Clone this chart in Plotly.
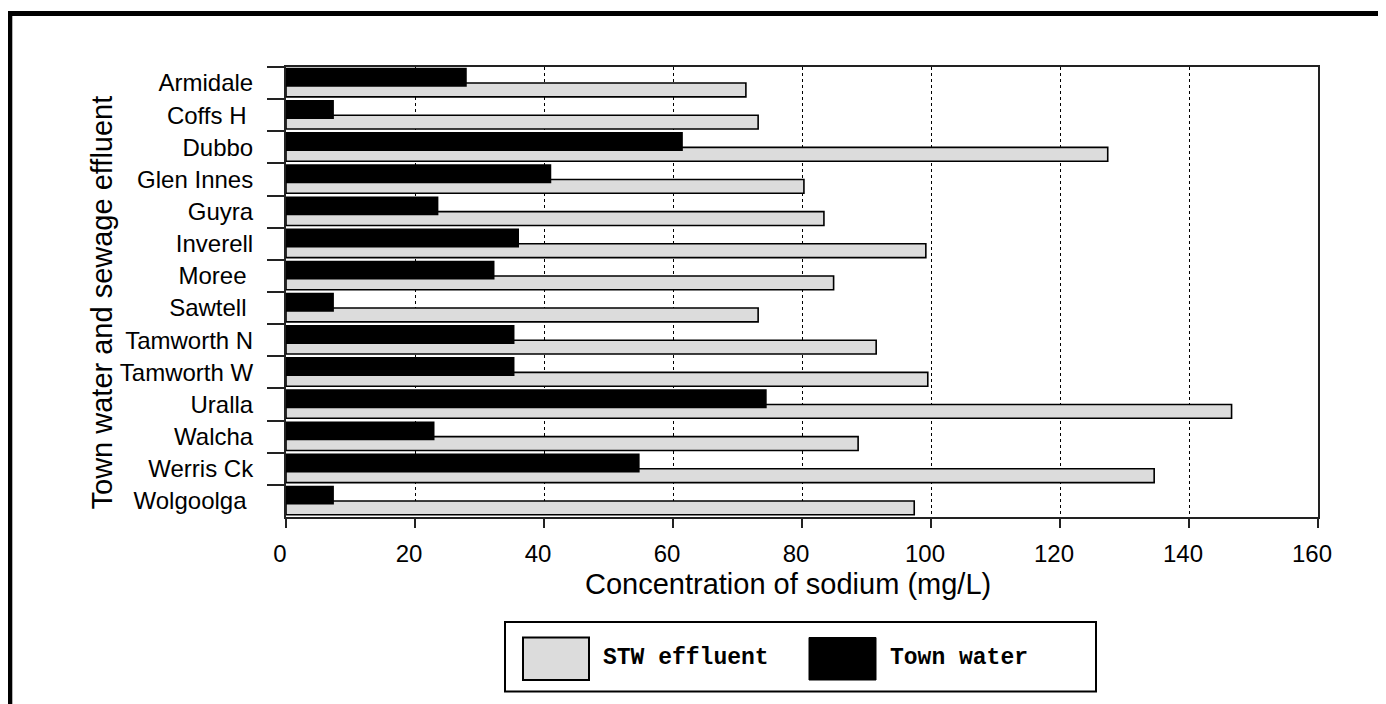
import plotly.graph_objects as go

towns = ["Armidale", "Coffs H\u00a0", "Dubbo", "Glen Innes", "Guyra", "Inverell",
         "Moree\u00a0", "Sawtell\u00a0", "Tamworth N", "Tamworth W", "Uralla",
         "Walcha", "Werris Ck", "Wolgoolga\u00a0"]
stw_effluent = [71.3, 73.2, 127.4, 80.3, 83.4, 99.2, 84.9, 73.2, 91.5, 99.5,
                146.6, 88.7, 134.6, 97.4]
town_water = [27.9, 7.3, 61.4, 41.0, 23.5, 36.0, 32.2, 7.3, 35.3, 35.3,
              74.4, 22.9, 54.7, 7.3]
x_ticks = [0, 20, 40, 60, 80, 100, 120, 140, 160]

# page offset of the plot div (browser body margin)
OFF = 8
# plot area in page pixels
PL, PT, PR, PB = 286, 67, 1318, 517
PW, PH = PR - PL, PB - PT
FW, FH = 1386 - OFF, 704 - OFF


def px(x):
    return (x - PL) / PW


def py(y):
    return (PB - y) / PH


fig = go.Figure()
fig.add_trace(go.Bar(
    y=towns, x=stw_effluent, orientation="h", name="STW effluent",
    marker=dict(color="#dcdcdc", line=dict(color="black", width=1.6)),
    offset=0.0, width=0.43, showlegend=False,
))
fig.add_trace(go.Bar(
    y=towns, x=town_water, orientation="h", name="Town water",
    marker=dict(color="black", line=dict(color="black", width=1.6)),
    offset=-0.45, width=0.54, showlegend=False,
))

shapes = []
# outer frame (top and left thick lines)
shapes.append(dict(type="line", xref="paper", yref="paper",
                   x0=px(7.3), x1=px(1400), y0=py(13.4), y1=py(13.4),
                   line=dict(color="black", width=5)))
shapes.append(dict(type="line", xref="paper", yref="paper",
                   x0=px(9.8), x1=px(9.8), y0=py(11), y1=py(720),
                   line=dict(color="black", width=5)))
# legend box
shapes.append(dict(type="rect", xref="paper", yref="paper",
                   x0=px(505), x1=px(1096), y0=py(622), y1=py(691.5),
                   line=dict(color="black", width=2), fillcolor="white"))
shapes.append(dict(type="rect", xref="paper", yref="paper",
                   x0=px(523), x1=px(589), y0=py(637.5), y1=py(680),
                   line=dict(color="black", width=2), fillcolor="#dcdcdc"))
shapes.append(dict(type="rect", xref="paper", yref="paper",
                   x0=px(809), x1=px(876), y0=py(637.5), y1=py(680),
                   line=dict(color="black", width=1), fillcolor="black"))

annotations = [
    dict(text="STW effluent", xref="paper", yref="paper", x=px(601), y=py(658),
         xanchor="left", yanchor="middle", showarrow=False,
         font=dict(family="Liberation Mono", size=23, color="black", weight="bold")),
    dict(text="Town water", xref="paper", yref="paper", x=px(888), y=py(658),
         xanchor="left", yanchor="middle", showarrow=False,
         font=dict(family="Liberation Mono", size=23, color="black", weight="bold")),
    dict(text="Concentration of sodium (mg/L)", xref="paper", yref="paper",
         x=px(788), y=py(584), xanchor="center", yanchor="middle", showarrow=False,
         font=dict(family="Liberation Sans", size=29, color="black")),
    dict(text="Town water and sewage effluent", xref="paper", yref="paper",
         x=px(101), y=py(302.5), xanchor="center", yanchor="middle", showarrow=False,
         textangle=-90,
         font=dict(family="Liberation Sans", size=29, color="black")),
]

fig.update_layout(
    width=FW, height=FH,
    margin=dict(l=PL - OFF, r=FW - (PR - OFF), t=PT - OFF, b=FH - (PB - OFF), pad=0),
    paper_bgcolor="white", plot_bgcolor="white",
    barmode="overlay",
    font=dict(family="Liberation Sans", size=24, color="black"),
    shapes=shapes, annotations=annotations,
    showlegend=False,
)
fig.update_xaxes(
    range=[0, 160], tickvals=x_ticks, ticktext=[str(v) for v in x_ticks],
    showline=True, linecolor="#222", linewidth=2, mirror=True,
    ticks="outside", ticklen=9, tickwidth=2, tickcolor="#222",
    showgrid=True, gridcolor="black", gridwidth=1, griddash="dot",
    zeroline=False, ticklabelshift=-6, ticklabelstandoff=5,
    tickfont=dict(size=24),
)
fig.update_yaxes(
    categoryorder="array", categoryarray=towns, autorange="reversed",
    showline=True, linecolor="#222", linewidth=2, mirror=True,
    ticks="outside", ticklen=17, tickwidth=2, tickcolor="#222",
    tickson="boundaries", showgrid=False, zeroline=False,
    ticklabelstandoff=26, tickfont=dict(size=24),
)

fig.write_html("out.html")
